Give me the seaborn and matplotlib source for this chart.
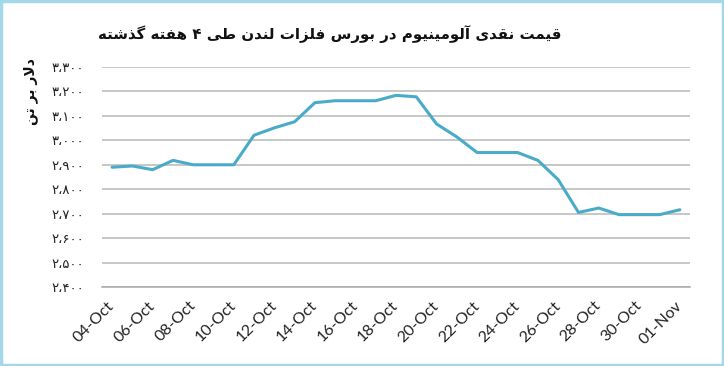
#!/usr/bin/env python3

import pandas as pd
import matplotlib
matplotlib.use("Agg")
import matplotlib.pyplot as plt
import matplotlib.patches as patches
import seaborn as sns

# daily LME cash aluminium price (weekends carry the Friday value)
dates = pd.date_range("2021-10-04", "2021-11-01", freq="D")
prices = [2890, 2895, 2880, 2918, 2900, 2900, 2900,
          3021, 3051, 3076, 3154, 3162, 3162, 3162,
          3184, 3178, 3067, 3014, 2950, 2950, 2950,
          2918, 2839, 2705, 2723, 2696, 2696, 2696,
          2716]
y_ticks = list(range(2400, 3301, 100))

title = "قیمت نقدی آلومینیوم در بورس فلزات لندن طی ۴ هفته گذشته"
y_label = "دلار بر تن"

# isolated, final, initial, medial presentation forms
FORMS = {
    "ا": ("\uFE8D", "\uFE8E"), "آ": ("\uFE81", "\uFE82"),
    "د": ("\uFEA9", "\uFEAA"), "ذ": ("\uFEAB", "\uFEAC"),
    "ر": ("\uFEAD", "\uFEAE"), "ز": ("\uFEAF", "\uFEB0"),
    "و": ("\uFEED", "\uFEEE"),
    "ب": ("\uFE8F", "\uFE90", "\uFE91", "\uFE92"),
    "ت": ("\uFE95", "\uFE96", "\uFE97", "\uFE98"),
    "س": ("\uFEB1", "\uFEB2", "\uFEB3", "\uFEB4"),
    "ش": ("\uFEB5", "\uFEB6", "\uFEB7", "\uFEB8"),
    "ط": ("\uFEC1", "\uFEC2", "\uFEC3", "\uFEC4"),
    "ف": ("\uFED1", "\uFED2", "\uFED3", "\uFED4"),
    "ق": ("\uFED5", "\uFED6", "\uFED7", "\uFED8"),
    "ل": ("\uFEDD", "\uFEDE", "\uFEDF", "\uFEE0"),
    "م": ("\uFEE1", "\uFEE2", "\uFEE3", "\uFEE4"),
    "ن": ("\uFEE5", "\uFEE6", "\uFEE7", "\uFEE8"),
    "ه": ("\uFEE9", "\uFEEA", "\uFEEB", "\uFEEC"),
    "ی": ("\uFBFC", "\uFBFD", "\uFBFE", "\uFBFF"),
    "گ": ("\uFB92", "\uFB93", "\uFB94", "\uFB95"),
}
LAM_ALEF = {"ا": ("\uFEFB", "\uFEFC"), "آ": ("\uFEF5", "\uFEF6")}


def shape_rtl(text):
    """Join Persian letters and put them in visual (left to right) order."""
    chars = list(text)
    out = []
    i = 0
    while i < len(chars):
        c = chars[i]
        prev = chars[i - 1] if i > 0 else ""
        prev_joins = prev in FORMS and len(FORMS[prev]) == 4
        if c == "ل" and i + 1 < len(chars) and chars[i + 1] in LAM_ALEF:
            forms = LAM_ALEF[chars[i + 1]]
            out.append(forms[1] if prev_joins else forms[0])
            i += 2
            continue
        if c not in FORMS:
            out.append(c)
            i += 1
            continue
        forms = FORMS[c]
        nxt = chars[i + 1] if i + 1 < len(chars) else ""
        next_joins = nxt in FORMS and len(forms) == 4
        if prev_joins and next_joins:
            out.append(forms[3])
        elif prev_joins:
            out.append(forms[1])
        elif next_joins:
            out.append(forms[2])
        else:
            out.append(forms[0])
        i += 1
    return "".join(reversed(out))


def persian_number(n):
    digits = "۰۱۲۳۴۵۶۷۸۹"
    s = f"{n:,}".replace(",", "،")
    return "".join(digits[int(ch)] if ch.isdigit() else ch for ch in s)


sns.set_style("white")
plt.rcParams["font.family"] = ["DejaVu Sans"]

fig = plt.figure(figsize=(7.24, 3.66), dpi=100)
ax = fig.add_axes([102 / 724, 1 - 287 / 366, 588 / 724, 220 / 366])

sns.lineplot(x=dates, y=prices, ax=ax, color="#4aabc8", linewidth=2.2)

ax.set_ylim(2400, 3300)
ax.set_yticks(y_ticks)
ax.set_yticklabels([persian_number(v) for v in y_ticks], fontsize=9.5, color="#222222")
ax.tick_params(axis="y", length=0, pad=13)
ax.yaxis.grid(True, color="#b8b8b8", linewidth=1.1)
ax.xaxis.grid(False)

half = pd.Timedelta(hours=12)
ax.set_xlim(dates[0] - half, dates[-1] + half)
ax.set_xticks(list(dates[::2] - half))
ax.set_xticklabels([])
ax.tick_params(axis="x", which="major", length=5, color="#a0a0a0", width=1)
ax.set_xticks(list(dates[::2]), minor=True)
ax.set_xticklabels([d.strftime("%d-%b") for d in dates[::2]], minor=True,
                   rotation=45, ha="right", va="center", rotation_mode="anchor",
                   fontsize=11.5, family="Lato", color="#222222")
ax.tick_params(axis="x", which="minor", length=0, pad=12)

for side in ["top", "right", "left"]:
    ax.spines[side].set_visible(False)
ax.spines["bottom"].set_color("#a8a8a8")
ax.spines["bottom"].set_linewidth(1.1)
ax.set_xlabel("")
ax.set_ylabel("")

fig.text(330 / 724, 1 - 34 / 366, shape_rtl(title), ha="center", va="center",
         fontsize=10.8, fontweight="bold", color="#111111")
fig.text(31 / 724, 1 - 92 / 366, shape_rtl(y_label), ha="center", va="center",
         rotation=90, fontsize=10, fontweight="bold", color="#111111")

fig.patches.append(patches.Rectangle((0.0015, 0.003), 0.997, 0.994, transform=fig.transFigure,
                                     fill=False, edgecolor="#a3d8e6", linewidth=2.5))

fig.savefig("out.png", dpi=100)
